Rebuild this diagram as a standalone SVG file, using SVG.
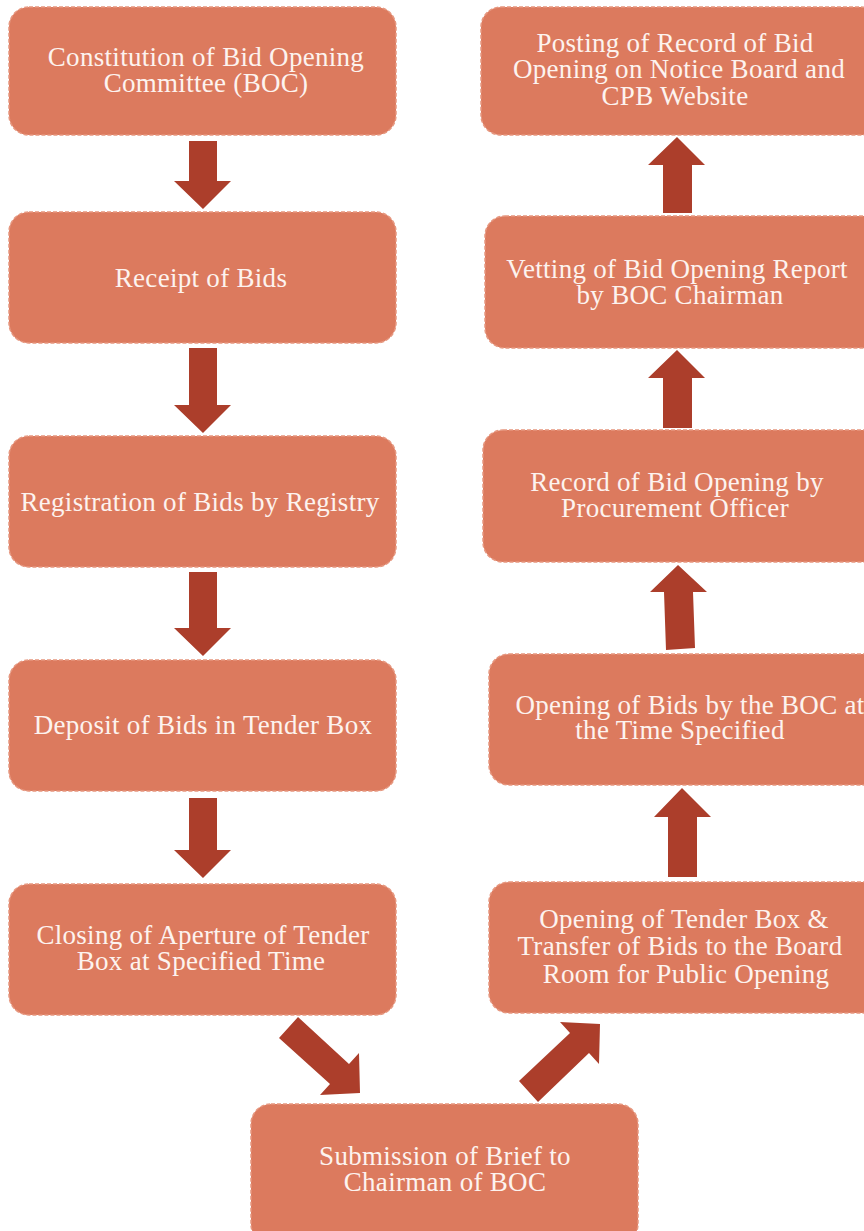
<svg xmlns="http://www.w3.org/2000/svg" width="864" height="1231" viewBox="0 0 864 1231">
<style>
.box{fill:#DC7A5E;stroke:#E6977F;stroke-width:1.5;stroke-dasharray:4 2}
.t{font-family:"Liberation Serif","Times New Roman",serif;font-size:27px;letter-spacing:0.3px;fill:#FDF3EF;text-anchor:middle}
.ar{fill:#AC3E2B}
</style>
<rect width="864" height="1231" fill="#FFFFFF"/>
<g id="n1"><rect class="box" x="9" y="7" width="387" height="128" rx="20"/><text class="t" x="206" y="66">Constitution of Bid Opening</text><text class="t" x="206" y="92">Committee (BOC)</text></g>
<g id="n2"><rect class="box" x="9" y="212" width="387" height="131" rx="20"/><text class="t" x="201" y="287">Receipt of Bids</text></g>
<g id="n3"><rect class="box" x="9" y="436" width="387" height="131" rx="20"/><text class="t" x="200" y="511">Registration of Bids by Registry</text></g>
<g id="n4"><rect class="box" x="9" y="660" width="387" height="131" rx="20"/><text class="t" x="203" y="734">Deposit of Bids in Tender Box</text></g>
<g id="n5"><rect class="box" x="9" y="884" width="387" height="131" rx="20"/><text class="t" x="203" y="944">Closing of Aperture of Tender</text><text class="t" x="201" y="970">Box at Specified Time</text></g>
<g id="n6"><rect class="box" x="251" y="1104" width="387" height="140" rx="20"/><text class="t" x="445" y="1165">Submission of Brief to</text><text class="t" x="445" y="1191">Chairman of BOC</text></g>
<g id="n7"><rect class="box" x="489" y="882" width="400" height="131" rx="20"/><text class="t" x="684" y="928">Opening of Tender Box &amp;</text><text class="t" x="680" y="955">Transfer of Bids to the Board</text><text class="t" x="686" y="983">Room for Public Opening</text></g>
<g id="n8"><rect class="box" x="489" y="654" width="400" height="131" rx="20"/><text class="t" x="690" y="714">Opening of Bids by the BOC at</text><text class="t" x="680" y="739">the Time Specified</text></g>
<g id="n9"><rect class="box" x="483" y="430" width="400" height="132" rx="20"/><text class="t" x="677" y="491">Record of Bid Opening by</text><text class="t" x="675" y="517">Procurement Officer</text></g>
<g id="n10"><rect class="box" x="485" y="216" width="400" height="132" rx="20"/><text class="t" x="677" y="278">Vetting of Bid Opening Report</text><text class="t" x="680" y="304">by BOC Chairman</text></g>
<g id="n11"><rect class="box" x="481" y="7" width="400" height="128" rx="20"/><text class="t" x="675" y="52">Posting of Record of Bid</text><text class="t" x="679" y="78">Opening on Notice Board and</text><text class="t" x="675" y="105">CPB Website</text></g>
<g id="connectors">
<polygon class="ar" points="189,141 217,141 217,181 231,181 203,209 174,181 189,181"/>
<polygon class="ar" points="189,348 217,348 217,405 231,405 203,433 174,405 189,405"/>
<polygon class="ar" points="189,572 217,572 217,628 231,628 203,656 174,628 189,628"/>
<polygon class="ar" points="189,798 217,798 217,850 231,850 203,878 174,850 189,850"/>
<polygon class="ar" points="298,1017 349,1064 359,1053 360,1093 320,1095 330,1084 279,1038"/>
<polygon class="ar" points="519,1081 570,1033 560,1022 600,1024 599,1064 589,1053 538,1102"/>
<polygon class="ar" points="668,877 697,877 697,817 711,817 682,788 654,817 668,817"/>
<polygon class="ar" points="666,650 695,648 693,592 707,592 678,565 650,592 664,592"/>
<polygon class="ar" points="663,428 692,428 692,378 705,378 677,350 648,378 663,378"/>
<polygon class="ar" points="663,213 692,213 692,165 705,165 677,137 648,165 663,165"/>
</g>
</svg>
